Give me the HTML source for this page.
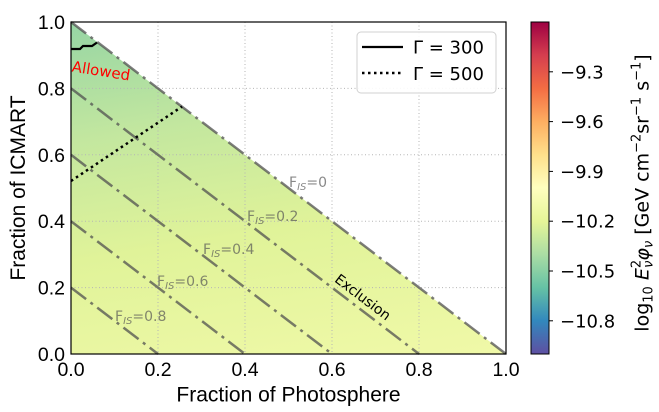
<!DOCTYPE html>
<html>
<head>
<meta charset="utf-8">
<style>
  html, body { margin: 0; padding: 0; background: #ffffff; }
  svg { display: block; }
</style>
</head>
<body>
<svg width="659" height="412" viewBox="0 0 659 412" xmlns="http://www.w3.org/2000/svg">
  <defs>
    <linearGradient id="fillg" gradientUnits="userSpaceOnUse" x1="71" y1="22" x2="133" y2="413">
      <stop offset="0" stop-color="rgb(150,213,164)"/>
      <stop offset="0.3" stop-color="rgb(195,231,159)"/>
      <stop offset="0.6" stop-color="rgb(224,243,153)"/>
      <stop offset="1" stop-color="rgb(240,249,168)"/>
    </linearGradient>
    <linearGradient id="cbar" x1="0" y1="1" x2="0" y2="0">
      <stop offset="0" stop-color="rgb(94,79,162)"/>
      <stop offset="0.1" stop-color="rgb(50,136,189)"/>
      <stop offset="0.2" stop-color="rgb(102,194,165)"/>
      <stop offset="0.3" stop-color="rgb(171,221,164)"/>
      <stop offset="0.4" stop-color="rgb(230,245,152)"/>
      <stop offset="0.5" stop-color="rgb(255,255,191)"/>
      <stop offset="0.6" stop-color="rgb(254,224,139)"/>
      <stop offset="0.7" stop-color="rgb(253,174,97)"/>
      <stop offset="0.8" stop-color="rgb(244,109,67)"/>
      <stop offset="0.9" stop-color="rgb(213,62,79)"/>
      <stop offset="1" stop-color="rgb(158,1,66)"/>
    </linearGradient>
  </defs>

  <!-- filled allowed region -->
  <polygon points="71,22 506,354 71,354" fill="url(#fillg)"/>

  <!-- grid -->
  <g stroke="#b5b5b5" stroke-width="1" stroke-dasharray="1,2.5" fill="none">
    <line x1="158" y1="22" x2="158" y2="354"/>
    <line x1="245" y1="22" x2="245" y2="354"/>
    <line x1="332" y1="22" x2="332" y2="354"/>
    <line x1="419" y1="22" x2="419" y2="354"/>
    <line x1="71" y1="287.6" x2="506" y2="287.6"/>
    <line x1="71" y1="221.2" x2="506" y2="221.2"/>
    <line x1="71" y1="154.8" x2="506" y2="154.8"/>
    <line x1="71" y1="88.4" x2="506" y2="88.4"/>
  </g>

  <!-- F_IS dash-dot lines -->
  <g stroke="#505050" stroke-opacity="0.75" stroke-width="2.5" stroke-dasharray="19,5.5,3,5.5" fill="none">
    <line x1="71" y1="22" x2="506" y2="354"/>
    <line x1="71" y1="88.4" x2="419" y2="354"/>
    <line x1="71" y1="154.8" x2="332" y2="354"/>
    <line x1="71" y1="221.2" x2="245" y2="354"/>
    <line x1="71" y1="287.6" x2="158" y2="354"/>
  </g>

  <!-- Gamma lines -->
  <path d="M71,49 L80,49 L83,46 L92,46 L97,42.5" stroke="#000" stroke-width="2.2" fill="none"/>
  <line x1="71" y1="181" x2="182" y2="106.6" stroke="#000" stroke-width="2.5" stroke-dasharray="2.5,3.5"/>

  <!-- F_IS labels -->
  <g font-family="DejaVu Sans, Liberation Sans, sans-serif" font-size="14" fill="#555555" fill-opacity="0.7">
    <text x="289" y="187">F<tspan font-size="10" font-style="italic" dy="3">IS</tspan><tspan dy="-3">=0</tspan></text>
    <text x="247" y="221">F<tspan font-size="10" font-style="italic" dy="3">IS</tspan><tspan dy="-3">=0.2</tspan></text>
    <text x="203" y="254">F<tspan font-size="10" font-style="italic" dy="3">IS</tspan><tspan dy="-3">=0.4</tspan></text>
    <text x="157" y="286">F<tspan font-size="10" font-style="italic" dy="3">IS</tspan><tspan dy="-3">=0.6</tspan></text>
    <text x="115" y="321">F<tspan font-size="10" font-style="italic" dy="3">IS</tspan><tspan dy="-3">=0.8</tspan></text>
  </g>

  <!-- Allowed / Exclusion -->
  <text transform="translate(101,71) rotate(9)" y="5" text-anchor="middle" font-family="DejaVu Sans, Liberation Sans, sans-serif" font-size="15" fill="#ff0000">Allowed</text>
  <text transform="translate(363,297) rotate(37.35)" y="5" text-anchor="middle" font-family="DejaVu Sans, Liberation Sans, sans-serif" font-size="14" fill="#000">Exclusion</text>

  <!-- axes frame -->
  <rect x="71" y="22" width="435" height="332" fill="none" stroke="#000" stroke-width="1.2"/>

  <!-- legend -->
  <rect x="357" y="32" width="139" height="61" rx="4" ry="4" fill="#ffffff" fill-opacity="0.9" stroke="#d0d0d0" stroke-width="1"/>
  <line x1="362" y1="47" x2="403" y2="47" stroke="#000" stroke-width="2.2"/>
  <line x1="362" y1="73" x2="403" y2="73" stroke="#000" stroke-width="2.5" stroke-dasharray="2.5,3.5"/>
  <g font-family="DejaVu Sans, Liberation Sans, sans-serif" font-size="18" fill="#000">
    <text x="413" y="53.5">Γ = 300</text>
    <text x="413" y="80">Γ = 500</text>
  </g>

  <!-- tick labels -->
  <g font-family="Liberation Sans, Arial, sans-serif" font-size="19.5" fill="#000">
    <g text-anchor="end">
      <text x="65" y="29">1.0</text>
      <text x="65" y="95.4">0.8</text>
      <text x="65" y="161.8">0.6</text>
      <text x="65" y="228.2">0.4</text>
      <text x="65" y="294.6">0.2</text>
      <text x="65" y="361">0.0</text>
    </g>
    <g text-anchor="middle">
      <text x="71" y="376">0.0</text>
      <text x="158" y="376">0.2</text>
      <text x="245" y="376">0.4</text>
      <text x="332" y="376">0.6</text>
      <text x="419" y="376">0.8</text>
      <text x="506" y="376">1.0</text>
    </g>
  </g>

  <!-- axis labels -->
  <text x="288.5" y="401.5" text-anchor="middle" font-family="Liberation Sans, Arial, sans-serif" font-size="21" fill="#000">Fraction of Photosphere</text>
  <text transform="translate(25,188) rotate(-90)" text-anchor="middle" font-family="Liberation Sans, Arial, sans-serif" font-size="21" fill="#000">Fraction of ICMART</text>

  <!-- colorbar -->
  <rect x="531" y="22" width="18" height="332" fill="url(#cbar)" stroke="#000" stroke-width="1"/>
  <g stroke="#000" stroke-width="1">
    <line x1="549" y1="71.8" x2="553" y2="71.8"/>
    <line x1="549" y1="121.6" x2="553" y2="121.6"/>
    <line x1="549" y1="171.4" x2="553" y2="171.4"/>
    <line x1="549" y1="221.2" x2="553" y2="221.2"/>
    <line x1="549" y1="271" x2="553" y2="271"/>
    <line x1="549" y1="320.8" x2="553" y2="320.8"/>
  </g>
  <g font-family="DejaVu Sans, Liberation Sans, sans-serif" font-size="18" fill="#000">
    <text x="560" y="78.3">−9.3</text>
    <text x="560" y="128.1">−9.6</text>
    <text x="560" y="177.9">−9.9</text>
    <text x="560" y="227.7">−10.2</text>
    <text x="560" y="277.5">−10.5</text>
    <text x="560" y="327.3">−10.8</text>
  </g>

  <!-- colorbar label -->
  <text transform="translate(648.5,193) rotate(-90)" text-anchor="middle" font-family="DejaVu Sans, Liberation Sans, sans-serif" font-size="19" fill="#000">log<tspan font-size="13" dy="4">10</tspan><tspan dy="-4"> </tspan><tspan font-style="italic">E</tspan><tspan font-size="13" dy="-8">2</tspan><tspan font-size="13" font-style="italic" dx="-8" dy="12">ν</tspan><tspan font-style="italic" dy="-4">φ</tspan><tspan font-size="13" font-style="italic" dy="4">ν</tspan><tspan dy="-4"> [GeV cm</tspan><tspan font-size="13" dy="-8">−2</tspan><tspan dy="8">sr</tspan><tspan font-size="13" dy="-8">−1</tspan><tspan dy="8"> s</tspan><tspan font-size="13" dy="-8">−1</tspan><tspan dy="8">]</tspan></text>
</svg>
</body>
</html>
